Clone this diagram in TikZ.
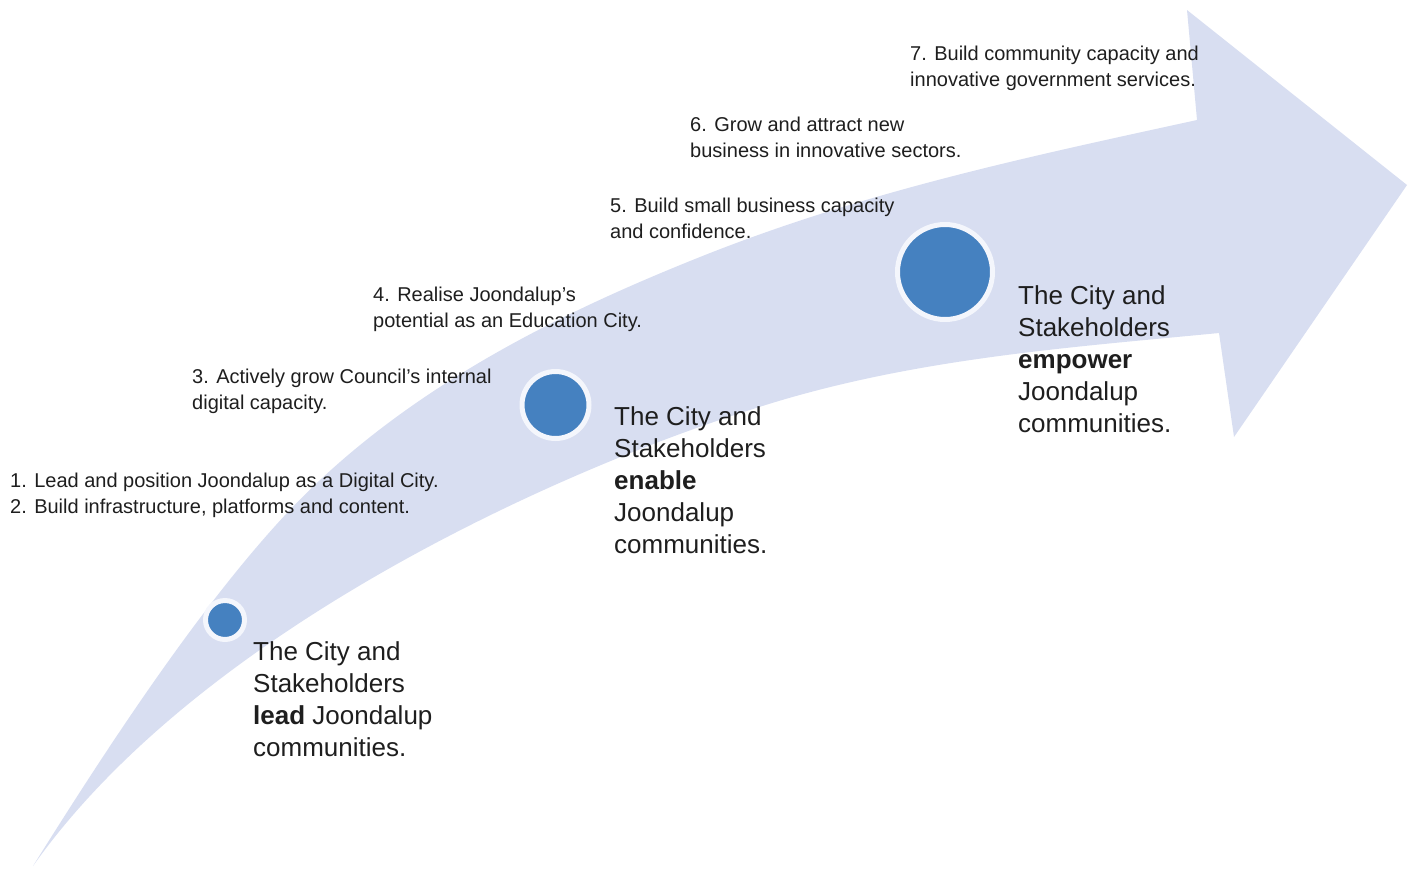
\documentclass[tikz,border=0pt]{standalone}
\usepackage{fontspec}
\setmainfont{Liberation Sans}
\definecolor{band}{HTML}{D8DEF1}
\definecolor{dot}{HTML}{4581C0}
\definecolor{ring}{HTML}{F4F6FC}
\definecolor{ink}{HTML}{1E1E1E}
\begin{document}
\begin{tikzpicture}[x=1pt,y=-1pt,
  small/.style={anchor=north west,inner sep=0pt,align=left,text=ink,font=\fontsize{20}{25.5}\selectfont},
  big/.style={anchor=north west,inner sep=0pt,align=left,text=ink,font=\fontsize{26}{32}\selectfont},
  dotnode/.style={circle,fill=dot,draw=ring,line width=5pt,inner sep=0pt}]
\useasboundingbox (0,0) rectangle (1413,868);
% band arrow
\fill[band] (33,866)
  .. controls (113,738) and (202,604) .. (287,513)
  .. controls (407,385) and (570,309) .. (700,257)
  .. controls (865,191) and (1032,156) .. (1197,120)
  -- (1187,10) -- (1407,185) -- (1234,437) -- (1219,333)
  .. controls (1064,348) and (905,359) .. (750,410)
  .. controls (560,470) and (200,630) .. (33,866) -- cycle;
% dots
\node[dotnode,minimum size=39pt] (c1) at (225,620) {};
\node[dotnode,minimum size=67pt] (c2) at (555.5,405) {};
\node[dotnode,minimum size=95pt] (c3) at (945,272) {};
% labels
\node[small] (t7) at (910,46) {7. Build community capacity and\\innovative government services.};
\node[small] (t6) at (690,117) {6. Grow and attract new\\business in innovative sectors.};
\node[small] (t5) at (610,198) {5. Build small business capacity\\and confidence.};
\node[small] (t4) at (373,287) {4. Realise Joondalup’s\\potential as an Education City.};
\node[small] (t3) at (192,369) {3. Actively grow Council’s internal\\digital capacity.};
\node[small] (t12) at (10,473) {1. Lead and position Joondalup as a Digital City.\\2. Build infrastructure, platforms and content.};
\node[big] (lead) at (253,641.4) {The City and\\Stakeholders\\\textbf{lead} Joondalup\\communities.};
\node[big] (enable) at (614,406.4) {The City and\\Stakeholders\\\textbf{enable}\\Joondalup\\communities.};
\node[big] (empower) at (1018,285.4) {The City and\\Stakeholders\\\textbf{empower}\\Joondalup\\communities.};
\end{tikzpicture}
\end{document}
